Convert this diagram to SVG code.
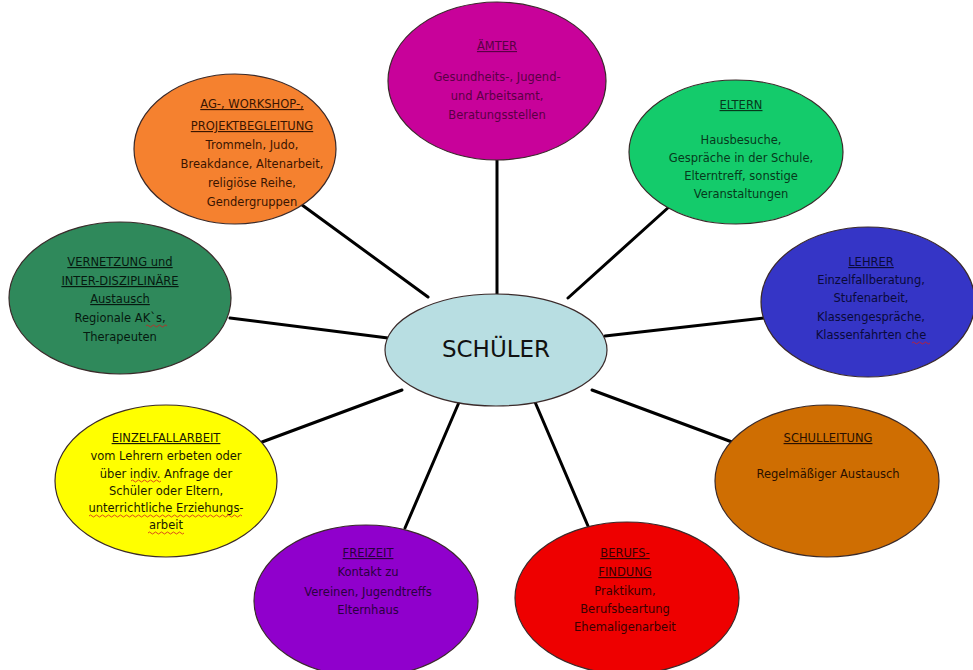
<svg xmlns="http://www.w3.org/2000/svg" width="973" height="670" viewBox="0 0 973 670">
<style>
.bg{fill:#ffffff}
.e{stroke:#3a2a2a;stroke-width:1.2}
.t{font-family:"DejaVu Sans","Liberation Sans",sans-serif;font-size:11.5px;text-anchor:middle}
.h{text-decoration:underline}
.c{stroke:#000;stroke-width:3;fill:none;stroke-linecap:round}
.sq{stroke:#d02020;stroke-width:0.8;fill:none}
</style>
<rect class="bg" x="0" y="0" width="973" height="670"/>
<g id="connectors">
<line class="c" x1="497" y1="158" x2="497" y2="297"/>
<line class="c" x1="298" y1="202" x2="428" y2="297"/>
<line class="c" x1="670" y1="206" x2="568" y2="298"/>
<line class="c" x1="230" y1="318" x2="388" y2="338"/>
<line class="c" x1="765" y1="318" x2="605" y2="336"/>
<line class="c" x1="262" y1="442" x2="402" y2="390"/>
<line class="c" x1="732" y1="442" x2="592" y2="390"/>
<line class="c" x1="405" y1="528" x2="460" y2="400"/>
<line class="c" x1="588" y1="526" x2="535" y2="402"/>
</g>
<g id="aemter">
<ellipse class="e" cx="497" cy="81" rx="109" ry="79" fill="#c8029a"/>
<g class="t" fill="#5a0045">
<text class="h" x="497" y="50">ÄMTER</text>
<text x="497" y="81">Gesundheits-, Jugend-</text>
<text x="497" y="100">und Arbeitsamt,</text>
<text x="497" y="119">Beratungsstellen</text>
</g>
</g>
<g id="ag">
<ellipse class="e" cx="235" cy="149" rx="101" ry="75" fill="#f5812f"/>
<g class="t" fill="#3a1500">
<text class="h" x="252" y="108">AG-, WORKSHOP-,</text>
<text class="h" x="252" y="130">PROJEKTBEGLEITUNG</text>
<text x="252" y="149">Trommeln, Judo,</text>
<text x="252" y="168">Breakdance, Altenarbeit,</text>
<text x="252" y="187">religiöse Reihe,</text>
<text x="252" y="206">Gendergruppen</text>
</g>
</g>
<g id="eltern">
<ellipse class="e" cx="736" cy="152" rx="107" ry="72" fill="#14cb6b"/>
<g class="t" fill="#063a1c">
<text class="h" x="741" y="109">ELTERN</text>
<text x="741" y="144">Hausbesuche,</text>
<text x="741" y="162">Gespräche in der Schule,</text>
<text x="741" y="180">Elterntreff, sonstige</text>
<text x="741" y="198">Veranstaltungen</text>
</g>
</g>
<g id="vernetzung">
<ellipse class="e" cx="120" cy="298" rx="111" ry="76" fill="#2f895b"/>
<g class="t" fill="#061a10">
<text class="h" x="120" y="266">VERNETZUNG und</text>
<text class="h" x="120" y="285">INTER-DISZIPLINÄRE</text>
<text class="h" x="120" y="303">Austausch</text>
<text x="120" y="322">Regionale AK`s,</text>
<text x="120" y="341">Therapeuten</text>
</g>
<path class="sq" d="M146 326 q1.5 -2 3 0 t3 0 t3 0 t3 0 t3 0 t3 0 t3 0"/>
</g>
<g id="lehrer">
<ellipse class="e" cx="868" cy="302" rx="107" ry="75" fill="#3535c6"/>
<g class="t" fill="#0a0a3a">
<text class="h" x="871" y="266">LEHRER</text>
<text x="871" y="284">Einzelfallberatung,</text>
<text x="871" y="302">Stufenarbeit,</text>
<text x="871" y="321">Klassengespräche,</text>
<text x="871" y="339">Klassenfahrten che</text>
</g>
<path class="sq" d="M912 343 q1.5 -2 3 0 t3 0 t3 0 t3 0 t3 0 t3 0"/>
</g>
<g id="einzelfall">
<ellipse class="e" cx="166" cy="481" rx="111" ry="76" fill="#ffff00"/>
<g class="t" fill="#1a1a00">
<text class="h" x="166" y="442">EINZELFALLARBEIT</text>
<text x="166" y="460">vom Lehrern erbeten oder</text>
<text x="166" y="478">über indiv. Anfrage der</text>
<text x="166" y="495">Schüler oder Eltern,</text>
<text x="166" y="512">unterrichtliche Erziehungs-</text>
<text x="166" y="529">arbeit</text>
</g>
<path class="sq" d="M131 481 q1.5 -2 3 0 t3 0 t3 0 t3 0 t3 0 t3 0 t3 0 t3 0 t3 0 t3 0"/>
<path class="sq" d="M89 516 q1.5 -2 3 0 t3 0 t3 0 t3 0 t3 0 t3 0 t3 0 t3 0 t3 0 t3 0 t3 0 t3 0 t3 0 t3 0 t3 0 t3 0 t3 0 t3 0 t3 0 t3 0 t3 0 t3 0 t3 0 t3 0 t3 0 t3 0 t3 0 t3 0 t3 0 t3 0 t3 0 t3 0 t3 0 t3 0 t3 0 t3 0 t3 0 t3 0 t3 0 t3 0 t3 0 t3 0 t3 0 t3 0 t3 0 t3 0 t3 0 t3 0 t3 0 t3 0 t3 0"/>
<path class="sq" d="M148 533 q1.5 -2 3 0 t3 0 t3 0 t3 0 t3 0 t3 0 t3 0 t3 0 t3 0 t3 0 t3 0 t3 0"/>
</g>
<g id="schulleitung">
<ellipse class="e" cx="827" cy="481" rx="112" ry="76" fill="#cf6e02"/>
<g class="t" fill="#2a1000">
<text class="h" x="828" y="442">SCHULLEITUNG</text>
<text x="828" y="478">Regelmäßiger Austausch</text>
</g>
</g>
<g id="freizeit">
<ellipse class="e" cx="366" cy="601" rx="112" ry="76" fill="#9000cc"/>
<g class="t" fill="#2a0040">
<text class="h" x="368" y="557">FREIZEIT</text>
<text x="368" y="576">Kontakt zu</text>
<text x="368" y="596">Vereinen, Jugendtreffs</text>
<text x="368" y="614">Elternhaus</text>
</g>
</g>
<g id="berufsfindung">
<ellipse class="e" cx="627" cy="598" rx="112" ry="76" fill="#ee0000"/>
<g class="t" fill="#3a0000">
<text class="h" x="625" y="557">BERUFS-</text>
<text class="h" x="625" y="576">FINDUNG</text>
<text x="625" y="595">Praktikum,</text>
<text x="625" y="613">Berufsbeartung</text>
<text x="625" y="631">Ehemaligenarbeit</text>
</g>
</g>
<g id="schueler">
<ellipse class="e" cx="496" cy="350" rx="111" ry="56" fill="#b8dee2"/>
<text x="496" y="357" font-family="DejaVu Sans, Liberation Sans, sans-serif" font-size="23" text-anchor="middle" fill="#111">SCHÜLER</text>
</g>
</svg>
